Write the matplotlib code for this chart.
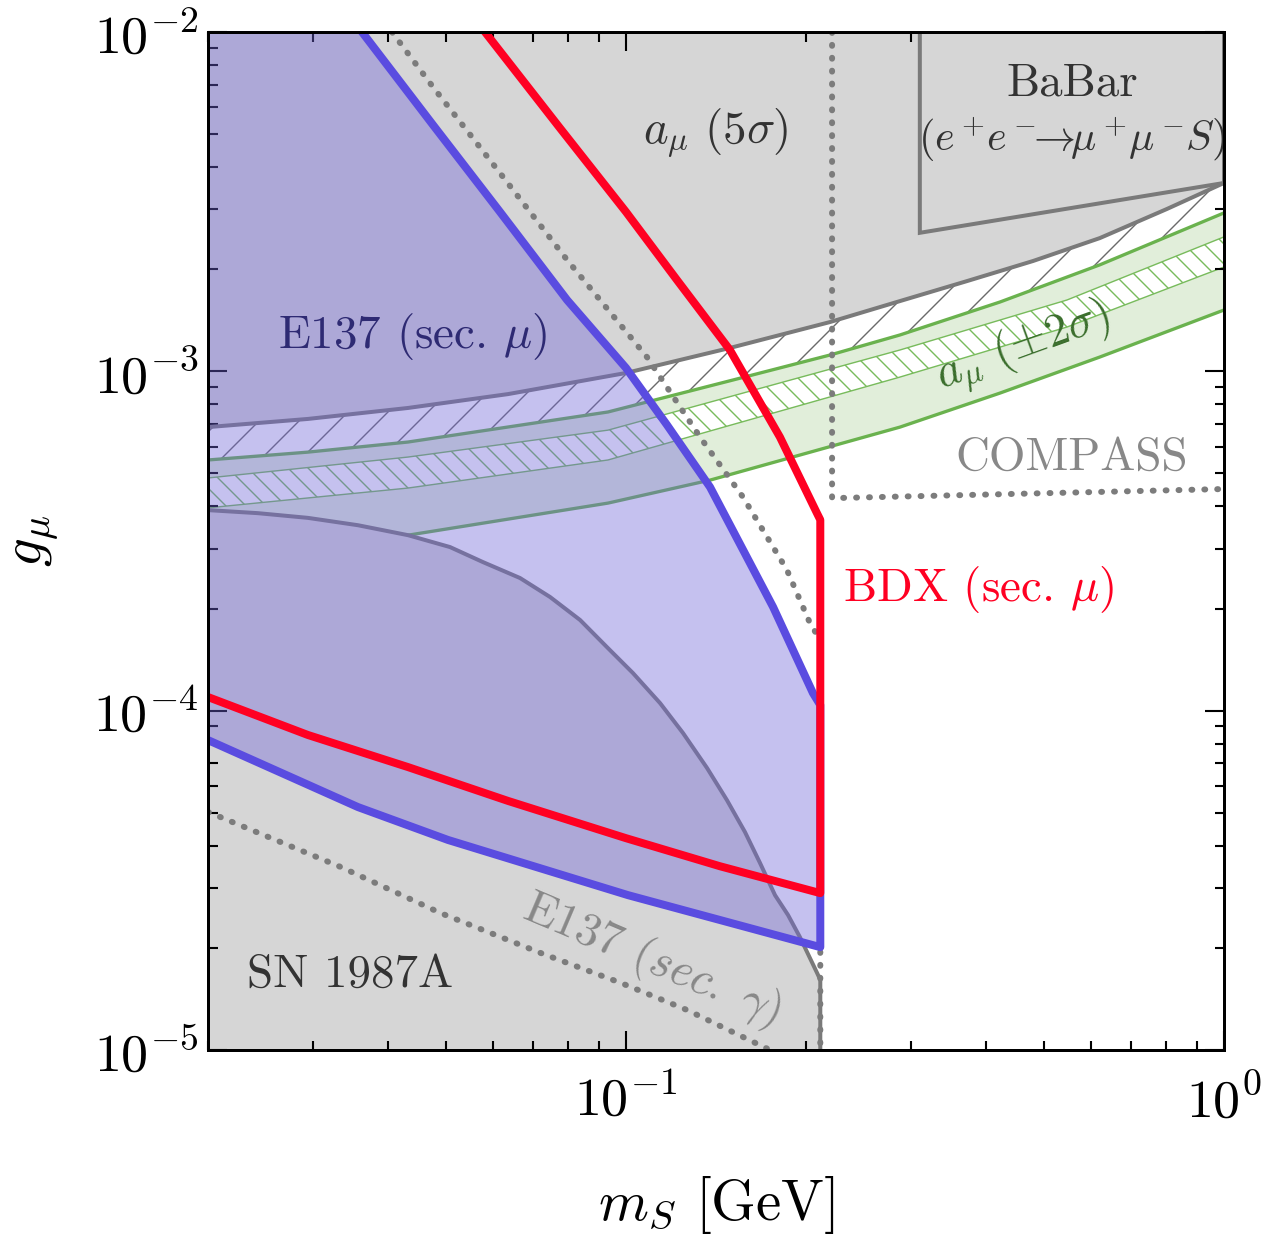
import matplotlib.pyplot as plt
import numpy as np

DPI = 120


def px(n):
    # sizes below are given in output pixels
    return n * 72 / DPI


plt.rcParams['font.family'] = 'serif'
plt.rcParams['font.serif'] = ['cmr10']
plt.rcParams['mathtext.fontset'] = 'cm'
plt.rcParams['axes.formatter.use_mathtext'] = True
plt.rcParams['hatch.linewidth'] = px(1.4)

M_MIN, M_MAX = 0.02, 1.0
G_MIN, G_MAX = 1e-5, 1e-2
M_2MU = 0.2113

# a_mu (5 sigma) exclusion, shaded above the curve
ms_amu5 = [0.02, 0.02938, 0.0432, 0.06351, 0.1, 0.1492, 0.2193, 0.2872, 0.3718,
           0.4793, 0.62, 0.803, 1.0]
g_amu5 = [6.85e-4, 7.24e-4, 7.80e-4, 8.57e-4, 9.89e-4, 1.172e-3, 1.397e-3, 1.611e-3,
          1.845e-3, 2.114e-3, 2.47e-3, 3.01e-3, 3.59e-3]

# a_mu (+-2 sigma) preferred band
ms_amu_hi = [0.02, 0.02938, 0.0432, 0.0933, 0.151, 0.2193, 0.2872, 0.4222, 0.62, 1.0]
g_amu_hi = [5.48e-4, 5.78e-4, 6.19e-4, 7.59e-4, 9.43e-4, 1.117e-3, 1.28e-3, 1.601e-3,
            2.06e-3, 2.93e-3]
ms_amu_lo = [0.02, 0.0432, 0.0933, 0.1382, 0.2872, 0.4222, 0.62, 1.0]
g_amu_lo = [2.65e-4, 3.29e-4, 4.09e-4, 4.78e-4, 6.85e-4, 8.63e-4, 1.102e-3, 1.516e-3]

# hatched strip inside the a_mu band
ms_strip = [0.02, 0.0432, 0.0933, 0.2872, 0.5465, 1.0]
g_strip_hi = [4.85e-4, 5.59e-4, 6.71e-4, 1.156e-3, 1.623e-3, 2.49e-3]
g_strip_lo = [3.96e-4, 4.53e-4, 5.48e-4, 9.62e-4, 1.351e-3, 2.03e-3]

# SN 1987A
ms_sn = [0.02, 0.02424, 0.02938, 0.03562, 0.0432, 0.05078, 0.05767, 0.06649, 0.07464,
         0.0838, 0.0929, 0.1027, 0.114, 0.1245, 0.1366, 0.1475, 0.1581, 0.1675, 0.1775,
         0.1866, 0.1954, 0.2086, 0.2113, 0.2113]
g_sn = [3.90e-4, 3.82e-4, 3.70e-4, 3.52e-4, 3.29e-4, 3.035e-4, 2.74e-4, 2.46e-4, 2.163e-4,
        1.85e-4, 1.54e-4, 1.291e-4, 1.053e-4, 8.60e-5, 6.78e-5, 5.45e-5, 4.39e-5, 3.56e-5,
        2.86e-5, 2.50e-5, 2.15e-5, 1.69e-5, 1.61e-5, 1e-5]

# E137 (sec. mu)
ms_e137_up = [0.03618, 0.04757, 0.06156, 0.0797, 0.1, 0.1171, 0.1382, 0.1762, 0.2054, M_2MU]
g_e137_up = [1e-2, 5.32e-3, 2.95e-3, 1.623e-3, 1.023e-3, 6.95e-4, 4.56e-4, 2.02e-4, 1.127e-4, 1.039e-4]
ms_e137_lo = [0.02, 0.03562, 0.05038, 0.1008, M_2MU]
g_e137_lo = [8.19e-5, 5.20e-5, 4.16e-5, 2.86e-5, 2.01e-5]

# BDX (sec. mu)
ms_bdx_up = [0.0581, 0.07755, 0.1, 0.1217, 0.1492, 0.1809, 0.2086, M_2MU]
g_bdx_up = [1e-2, 5.21e-3, 2.95e-3, 1.858e-3, 1.156e-3, 6.40e-4, 3.82e-4, 3.65e-4]
ms_bdx_lo = [0.02, 0.02938, 0.0432, 0.06351, 0.1, 0.1436, M_2MU]
g_bdx_lo = [1.097e-4, 8.48e-5, 6.82e-5, 5.42e-5, 4.21e-5, 3.48e-5, 2.90e-5]

# E137 (sec. gamma)
ms_gam_up = [0.04061, 0.04757, 0.06156, 0.0797, 0.1084, 0.133, 0.1569, 0.1858, 0.2031, M_2MU, M_2MU]
g_gam_up = [1e-2, 6.88e-3, 3.84e-3, 2.13e-3, 1.102e-3, 6.40e-4, 4.26e-4, 2.60e-4, 1.81e-4, 1.615e-4, 1e-5]
ms_gam_lo = [0.02, 0.03337, 0.04904, 0.07209, 0.0981, 0.1265, 0.1741]
g_gam_lo = [5.03e-5, 3.46e-5, 2.53e-5, 1.93e-5, 1.576e-5, 1.312e-5, 1e-5]

# COMPASS and BaBar
ms_compass = [0.2211, 0.2211, 1.0]
g_compass = [1e-2, 4.23e-4, 4.50e-4]
ms_babar = [0.31, 0.31, 1.0, 1.0]
g_babar = [1e-2, 2.56e-3, 3.59e-3, 1e-2]

GRAY_FILL = '#d6d6d6'
GRAY_LINE = '#7a7a7a'
DOT = '#7c7c7c'
PURPLE = '#7064d9'
BLUE = '#5a4ce0'
RED = '#ff0022'
GREEN = '#6ab24e'
GREEN_FILL = '#e1eeda'

fig = plt.figure(figsize=(1281 / DPI, 1240 / DPI), dpi=DPI)
ax = fig.add_axes([0.1624, 0.1532, 0.7931, 0.8210])
ax.set_xscale('log')
ax.set_yscale('log')
ax.set_xlim(M_MIN, M_MAX)
ax.set_ylim(G_MIN, G_MAX)

# a_mu band
ax.fill(np.r_[ms_amu_hi, ms_amu_lo[::-1]], np.r_[g_amu_hi, g_amu_lo[::-1]],
        color=GREEN_FILL, lw=0, zorder=1)
ax.fill(np.r_[ms_strip, ms_strip[::-1]], np.r_[g_strip_hi, g_strip_lo[::-1]],
        facecolor='white', edgecolor='#78bb5c', lw=px(1.4), hatch='\\\\', zorder=1.2)
ax.fill(np.r_[ms_amu5, ms_amu_hi[::-1]], np.r_[g_amu5, g_amu_hi[::-1]],
        facecolor='white', edgecolor='#6a6a6a', lw=0, hatch='/', zorder=1.2)
ax.plot(ms_amu_hi, g_amu_hi, color=GREEN, lw=px(3.3), zorder=1.4)
ax.plot(ms_amu_lo, g_amu_lo, color=GREEN, lw=px(3.3), zorder=1.4)

# grey exclusions
ax.fill_between(ms_amu5, g_amu5, G_MAX, color=GRAY_FILL, lw=0, zorder=1.5)
ax.fill(np.r_[ms_sn, ms_sn[0]], np.r_[g_sn, G_MIN], color=GRAY_FILL, lw=0, zorder=1.5)
ax.fill(ms_babar, g_babar, facecolor=GRAY_FILL, edgecolor=GRAY_LINE, lw=px(4), zorder=1.6)
ax.plot(ms_amu5, g_amu5, color=GRAY_LINE, lw=px(4), zorder=2)
ax.plot(ms_sn, g_sn, color=GRAY_LINE, lw=px(4), zorder=2)

dots = dict(color=DOT, lw=px(6), linestyle=(0, (0.15, 2.0)), dash_capstyle='round', zorder=2)
ax.plot(ms_gam_up, g_gam_up, **dots)
ax.plot(ms_gam_lo, g_gam_lo, **dots)
ax.plot(ms_compass, g_compass, **dots)

# E137 (sec. mu) region
ax.fill(np.r_[M_MIN, ms_e137_up, ms_e137_lo[::-1]], np.r_[G_MAX, g_e137_up, g_e137_lo[::-1]],
        color=PURPLE, alpha=0.4, lw=0, zorder=3)
ax.plot(np.r_[ms_e137_up, ms_e137_lo[::-1]], np.r_[g_e137_up, g_e137_lo[::-1]],
        color=BLUE, lw=px(8), zorder=4)
ax.plot(np.r_[ms_bdx_up, ms_bdx_lo[::-1]], np.r_[g_bdx_up, g_bdx_lo[::-1]],
        color=RED, lw=px(8), zorder=5)

fs = px(47)
tr = ax.transAxes
kw = dict(ha='center', va='center', transform=tr, zorder=6, fontsize=fs)
ax.text(0.2008, 0.7004, r'E137 (sec. $\mu$)', color='#2e2a73', **kw)
ax.text(0.758, 0.4519, r'BDX (sec. $\mu$)', color=RED, **kw)
ax.text(0.50, 0.9008, r'$a_\mu\ (5\sigma)$', color='#333333', **kw)
ax.text(0.8504, 0.9489, 'BaBar', color='#333333', **kw)
ax.text(0.8504, 0.894, r'$(e^+\!e^-\!\!\!\rightarrow\!\!\mu^+\!\mu^-\!S)$', color='#333333',
        ha='center', va='center', transform=tr, zorder=6, fontsize=px(42))
ax.text(0.802, 0.690, r'$a_\mu\ (\pm 2\sigma)$', color='#3a6e2c', rotation=20, **kw)
ax.text(0.8504, 0.5815, 'COMPASS', color='#888888', **kw)
ax.text(0.437, 0.0884, r'E137 $(\mathit{sec.}\ \gamma)$', color='#888888', rotation=-23, **kw)
ax.text(0.1398, 0.0737, 'SN 1987A', color='#333333', **kw)

ax.set_xlabel(r'$m_S$ [GeV]', fontsize=px(57), labelpad=px(47))
ax.set_ylabel(r'$g_\mu$', fontsize=px(57), labelpad=px(33))
ax.tick_params(which='both', direction='in', top=True, right=True, width=px(2.1))
ax.tick_params(which='major', length=px(19), labelsize=px(54))
ax.tick_params(axis='x', which='major', pad=px(24))
ax.tick_params(axis='y', which='major', pad=px(9))
ax.tick_params(which='minor', length=px(9.5))
for s in ax.spines.values():
    s.set_linewidth(px(3))
    s.set_zorder(7)

fig.savefig('out.png', dpi=DPI)
